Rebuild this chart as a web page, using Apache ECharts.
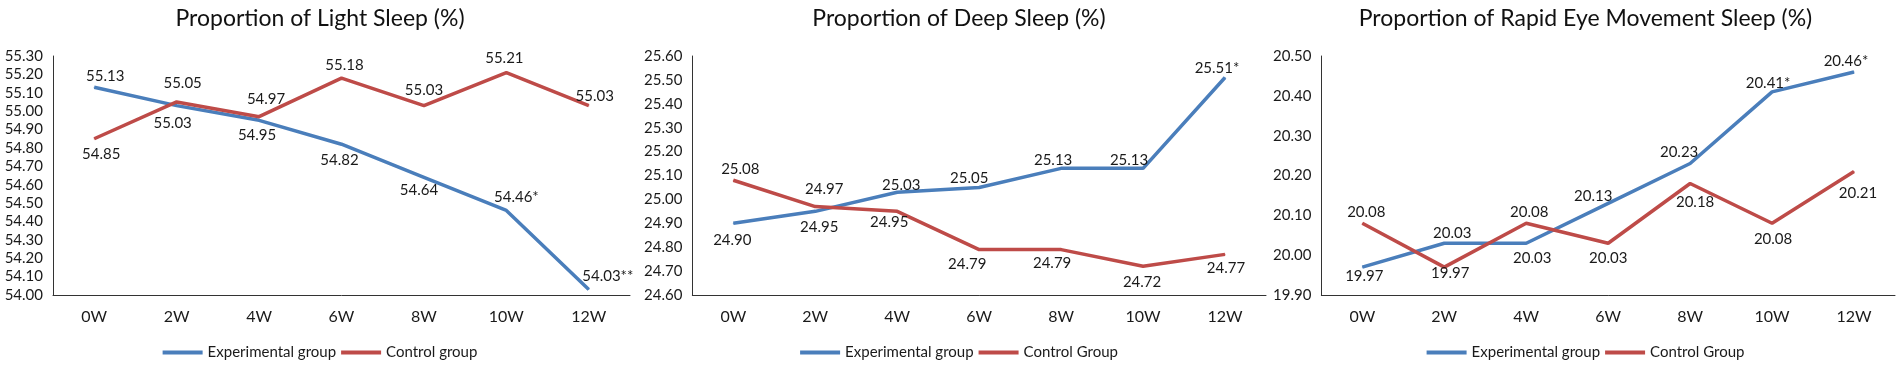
<!DOCTYPE html>
<html>
<head>
<meta charset="utf-8">
<title>Sleep proportions</title>
<script src="https://cdn.jsdelivr.net/npm/echarts@6/dist/echarts.min.js"></script>
<style>
    html, body { margin: 0; padding: 0; background: #fff; }
    .panel { position: absolute; top: 0; height: 369px; }
</style>
</head>
<body>
<div id="light" class="panel" style="left:0;width:640px"></div>
<div id="deep" class="panel" style="left:641px;width:636px"></div>
<div id="rem" class="panel" style="left:1270px;width:631px"></div>
<script>
var weeks = ['0W', '2W', '4W', '6W', '8W', '10W', '12W'];

// light sleep
var lightExp = [55.13, 55.03, 54.95, 54.82, 54.64, 54.46, 54.03];
var lightCtrl = [54.85, 55.05, 54.97, 55.18, 55.03, 55.21, 55.03];
var lightExpMarks = ['', '', '', '', '', '*', '**'];
var lightCtrlMarks = ['', '', '', '', '', '', ''];

// deep sleep
var deepExp = [24.90, 24.95, 25.03, 25.05, 25.13, 25.13, 25.51];
var deepCtrl = [25.08, 24.97, 24.95, 24.79, 24.79, 24.72, 24.77];
var deepExpMarks = ['', '', '', '', '', '', '*'];
var deepCtrlMarks = ['', '', '', '', '', '', ''];

// REM sleep
var remExp = [19.97, 20.03, 20.03, 20.13, 20.23, 20.41, 20.46];
var remCtrl = [20.08, 19.97, 20.08, 20.03, 20.18, 20.08, 20.21];
var remExpMarks = ['', '', '', '', '', '*', '*'];
var remCtrlMarks = ['', '', '', '', '', '', ''];

// where each data label sits relative to its point (dx, dy in px)
var lightExpOff = [[11, -11], [-4, 18], [-2, 15], [-2, 16], [-5, 13], [10, -13], [19, -13]];
var lightCtrlOff = [[7, 15], [6, -19], [7, -18], [3, -13], [0, -15], [-2, -14], [6, -9]];
var deepExpOff = [[-1, 17], [4, 16], [4, -7], [-10, -9], [-8, -8], [-14, -8], [-8, -9]];
var deepCtrlOff = [[7, -11], [9, -17], [-8, 11], [-12, 15], [-9, 14], [-1, 16], [1, 14]];
var remExpOff = [[2, 9], [8, -10], [6, 15], [-15, -7], [-11, -11], [-4, -9], [-8, -11]];
var remCtrlOff = [[4, -11], [6, 6], [3, -11], [0, 15], [5, 19], [1, 16], [4, 22]];

var FONT = 'Lato, "Open Sans", sans-serif';
var BLUE = '#4a7ebb';
var RED = '#be4b48';
var INK = '#1a1a1a';

function makeSeries(name, color, values, marks, offsets) {
    var data = [], i;
    for (i = 0; i < values.length; i++) {
        data.push({ value: values[i], label: { offset: offsets[i] } });
    }
    return {
        name: name,
        type: 'line',
        data: data,
        symbol: 'circle',
        symbolSize: 1,
        showSymbol: true,
        itemStyle: { color: color },
        lineStyle: { color: color, width: 3.5 },
        emphasis: { disabled: true },
        label: {
            show: true,
            position: 'inside',
            color: INK,
            fontFamily: FONT,
            fontSize: 15,
            formatter: function (p) {
                return p.value.toFixed(2) + marks[p.dataIndex];
            }
        },
        animation: false
    };
}

function makePanel(id, cfg) {
    var chart = echarts.init(document.getElementById(id));
    chart.setOption({
        animation: false,
        title: {
            text: cfg.title,
            left: 'center',
            top: 2,
            textStyle: { fontFamily: FONT, fontSize: 23, fontWeight: 'normal', color: '#111' }
        },
        legend: {
            top: 340,
            left: 'center',
            data: [cfg.expName, cfg.ctrlName],
            icon: 'rect',
            itemWidth: 40,
            itemHeight: 4,
            itemGap: 5,
            selectedMode: false,
            textStyle: { fontFamily: FONT, fontSize: 15, color: INK }
        },
        grid: { left: cfg.left, top: 56, width: 577, height: 239 },
        xAxis: {
            type: 'category',
            data: weeks,
            boundaryGap: true,
            axisLine: { lineStyle: { color: '#333', width: 1 } },
            axisTick: { show: false },
            axisLabel: { margin: 14, fontFamily: FONT, fontSize: 16, color: INK }
        },
        yAxis: {
            type: 'value',
            min: cfg.min,
            max: cfg.max,
            interval: 0.1,
            axisLine: { show: true, lineStyle: { color: '#333', width: 1 } },
            axisTick: { show: false },
            splitLine: { show: false },
            axisLabel: {
                margin: 10,
                fontFamily: FONT,
                fontSize: 15,
                color: INK,
                formatter: function (v) { return v.toFixed(2); }
            }
        },
        series: [
            makeSeries(cfg.expName, BLUE, cfg.exp, cfg.expMarks, cfg.expOff),
            makeSeries(cfg.ctrlName, RED, cfg.ctrl, cfg.ctrlMarks, cfg.ctrlOff)
        ]
    });
    return chart;
}

makePanel('light', {
    title: 'Proportion of Light Sleep (%)',
    left: 53, min: 54.0, max: 55.3,
    expName: 'Experimental group', ctrlName: 'Control group',
    exp: lightExp, ctrl: lightCtrl,
    expMarks: lightExpMarks, ctrlMarks: lightCtrlMarks,
    expOff: lightExpOff, ctrlOff: lightCtrlOff
});

makePanel('deep', {
    title: 'Proportion of Deep Sleep (%)',
    left: 48, min: 24.6, max: 25.6,
    expName: 'Experimental group', ctrlName: 'Control Group',
    exp: deepExp, ctrl: deepCtrl,
    expMarks: deepExpMarks, ctrlMarks: deepCtrlMarks,
    expOff: deepExpOff, ctrlOff: deepCtrlOff
});

makePanel('rem', {
    title: 'Proportion of Rapid Eye Movement Sleep (%)',
    left: 48, min: 19.9, max: 20.5,
    expName: 'Experimental group', ctrlName: 'Control Group',
    exp: remExp, ctrl: remCtrl,
    expMarks: remExpMarks, ctrlMarks: remCtrlMarks,
    expOff: remExpOff, ctrlOff: remCtrlOff
});
</script>
</body>
</html>
